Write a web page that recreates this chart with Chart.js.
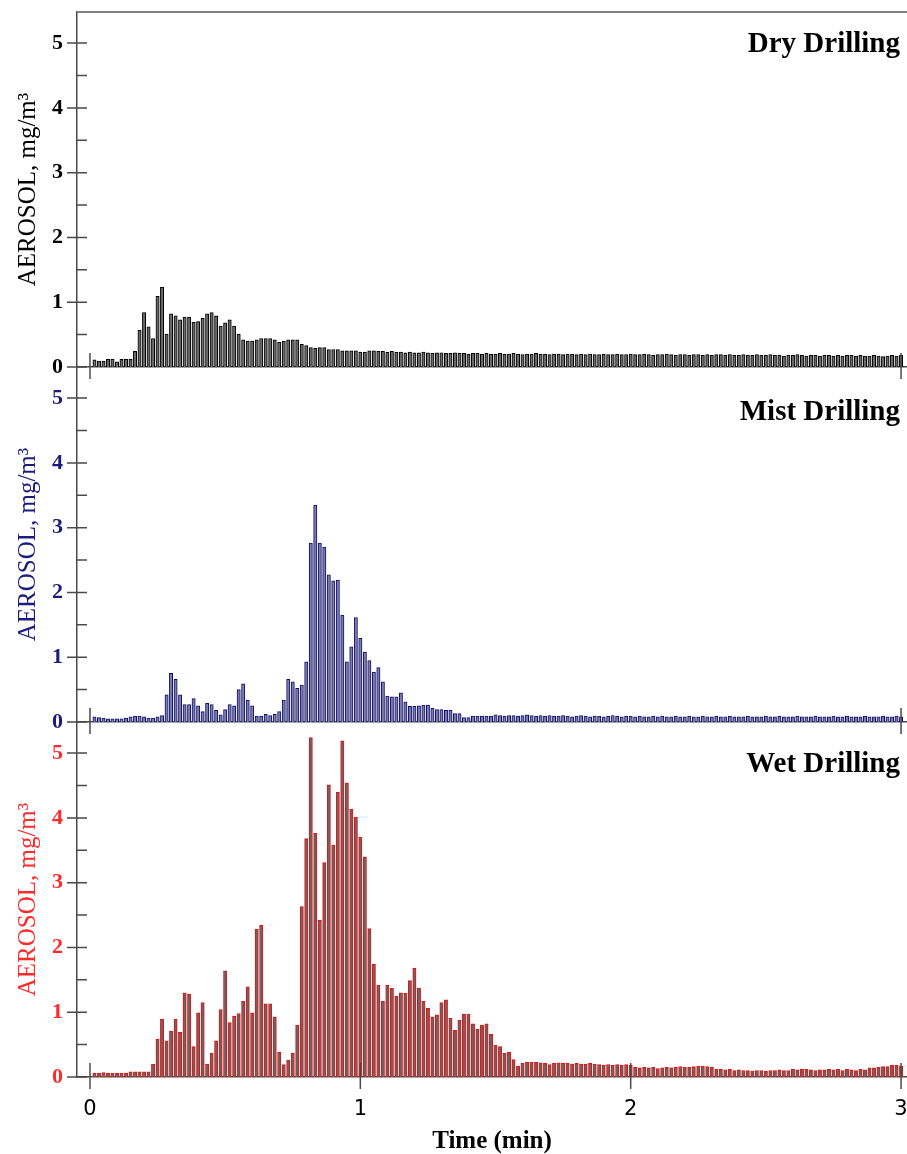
<!DOCTYPE html>
<html>
<head>
<meta charset="utf-8">
<title>Aerosol during drilling</title>
<script src="https://cdn.jsdelivr.net/npm/chart.js@4.4.1/dist/chart.umd.min.js"></script>
<style>
    body { margin: 0; background: #fff; }
    #wrap { position: relative; width: 907px; height: 1154px; overflow: hidden; }
    #wrap canvas { position: absolute; left: 0; }
</style>
</head>
<body>
<div id="wrap">
    <canvas id="dryChart" width="907" height="390" style="top:0px"></canvas>
    <canvas id="mistChart" width="907" height="390" style="top:355px"></canvas>
    <canvas id="wetChart" width="907" height="444" style="top:710px"></canvas>
</div>
<script>
// tick labels and panel names
const xTickLabels = [0, 1, 2, 3];
const yTickLabels = [0, 1, 2, 3, 4, 5];
const panelNames = ["Dry Drilling", "Mist Drilling", "Wet Drilling"];
const yAxisTitle = "AEROSOL, mg/m\u00B3";
const xAxisTitle = "Time (min)";

// one reading per second, mg/m3
const dryValues = [
    0.11, 0.09, 0.09, 0.12, 0.12, 0.08, 0.12, 0.12, 0.12, 0.24,
    0.57, 0.84, 0.62, 0.44, 1.09, 1.23, 0.51, 0.82, 0.79, 0.73,
    0.77, 0.77, 0.69, 0.70, 0.75, 0.82, 0.84, 0.79, 0.63, 0.68,
    0.73, 0.63, 0.51, 0.42, 0.40, 0.40, 0.42, 0.44, 0.44, 0.44,
    0.42, 0.38, 0.40, 0.42, 0.42, 0.42, 0.35, 0.33, 0.30, 0.29,
    0.30, 0.30, 0.27, 0.27, 0.27, 0.25, 0.25, 0.25, 0.25, 0.23,
    0.23, 0.25, 0.25, 0.24, 0.24, 0.23, 0.24, 0.23, 0.23, 0.22,
    0.23, 0.22, 0.22, 0.23, 0.22, 0.21, 0.22, 0.22, 0.21, 0.21,
    0.22, 0.21, 0.21, 0.20, 0.21, 0.21, 0.20, 0.21, 0.20, 0.20,
    0.21, 0.20, 0.20, 0.21, 0.20, 0.19, 0.20, 0.20, 0.21, 0.20,
    0.20, 0.19, 0.20, 0.20, 0.19, 0.20, 0.20, 0.19, 0.20, 0.19,
    0.20, 0.19, 0.19, 0.20, 0.19, 0.19, 0.20, 0.19, 0.19, 0.20,
    0.19, 0.19, 0.20, 0.19, 0.18, 0.19, 0.19, 0.20, 0.19, 0.18,
    0.19, 0.19, 0.18, 0.19, 0.19, 0.18, 0.19, 0.18, 0.19, 0.19,
    0.18, 0.19, 0.18, 0.18, 0.19, 0.18, 0.18, 0.19, 0.18, 0.18,
    0.19, 0.18, 0.18, 0.17, 0.18, 0.18, 0.19, 0.18, 0.17, 0.18,
    0.18, 0.17, 0.18, 0.18, 0.17, 0.18, 0.17, 0.18, 0.18, 0.17,
    0.18, 0.17, 0.17, 0.18, 0.17, 0.16, 0.17, 0.18, 0.17, 0.18
];
const mistValues = [
    0.08, 0.07, 0.06, 0.05, 0.05, 0.05, 0.05, 0.06, 0.08, 0.09,
    0.09, 0.08, 0.06, 0.06, 0.08, 0.10, 0.42, 0.75, 0.66, 0.42,
    0.27, 0.27, 0.36, 0.25, 0.16, 0.29, 0.27, 0.18, 0.11, 0.19,
    0.27, 0.25, 0.50, 0.59, 0.34, 0.25, 0.09, 0.09, 0.12, 0.10,
    0.12, 0.16, 0.34, 0.66, 0.62, 0.52, 0.57, 0.93, 2.76, 3.35,
    2.76, 2.70, 2.27, 2.18, 2.19, 1.65, 0.93, 1.16, 1.61, 1.29,
    1.08, 0.95, 0.77, 0.84, 0.62, 0.40, 0.39, 0.39, 0.45, 0.31,
    0.24, 0.24, 0.25, 0.26, 0.26, 0.21, 0.19, 0.19, 0.18, 0.18,
    0.13, 0.13, 0.07, 0.07, 0.09, 0.09, 0.09, 0.09, 0.09, 0.11,
    0.10, 0.09, 0.10, 0.10, 0.09, 0.10, 0.11, 0.10, 0.09, 0.10,
    0.09, 0.10, 0.09, 0.09, 0.10, 0.09, 0.08, 0.09, 0.10, 0.09,
    0.08, 0.09, 0.09, 0.08, 0.09, 0.10, 0.09, 0.08, 0.09, 0.09,
    0.08, 0.09, 0.08, 0.08, 0.09, 0.08, 0.09, 0.08, 0.08, 0.09,
    0.08, 0.08, 0.09, 0.08, 0.08, 0.09, 0.08, 0.08, 0.09, 0.08,
    0.08, 0.09, 0.08, 0.08, 0.08, 0.09, 0.08, 0.08, 0.08, 0.09,
    0.08, 0.08, 0.09, 0.08, 0.08, 0.08, 0.09, 0.08, 0.08, 0.08,
    0.09, 0.08, 0.08, 0.08, 0.09, 0.08, 0.08, 0.09, 0.08, 0.08,
    0.08, 0.09, 0.08, 0.08, 0.08, 0.09, 0.08, 0.08, 0.09, 0.08
];
const wetValues = [
    0.06, 0.06, 0.07, 0.06, 0.06, 0.06, 0.06, 0.06, 0.08, 0.08,
    0.08, 0.08, 0.08, 0.20, 0.58, 0.89, 0.56, 0.71, 0.89, 0.69,
    1.30, 1.28, 0.47, 0.99, 1.15, 0.20, 0.37, 0.56, 1.04, 1.64,
    0.84, 0.94, 0.98, 1.17, 1.39, 0.99, 2.28, 2.34, 1.13, 1.13,
    0.93, 0.38, 0.19, 0.26, 0.37, 0.80, 2.63, 3.68, 5.24, 3.76,
    2.42, 3.31, 4.51, 3.58, 4.40, 5.19, 4.54, 4.13, 4.01, 3.70,
    3.40, 2.29, 1.74, 1.42, 1.17, 1.42, 1.37, 1.25, 1.30, 1.29,
    1.49, 1.68, 1.37, 1.17, 1.06, 0.93, 0.96, 1.15, 1.19, 0.91,
    0.72, 0.88, 0.97, 0.97, 0.82, 0.74, 0.80, 0.82, 0.66, 0.49,
    0.47, 0.37, 0.38, 0.27, 0.17, 0.21, 0.23, 0.23, 0.23, 0.22,
    0.21, 0.19, 0.21, 0.22, 0.21, 0.21, 0.20, 0.21, 0.20, 0.20,
    0.21, 0.20, 0.19, 0.18, 0.19, 0.18, 0.19, 0.18, 0.19, 0.18,
    0.15, 0.14, 0.15, 0.14, 0.15, 0.13, 0.14, 0.15, 0.14, 0.15,
    0.16, 0.15, 0.15, 0.16, 0.17, 0.17, 0.16, 0.15, 0.12, 0.12,
    0.11, 0.12, 0.10, 0.11, 0.10, 0.10, 0.09, 0.10, 0.10, 0.09,
    0.10, 0.10, 0.11, 0.10, 0.10, 0.12, 0.11, 0.12, 0.12, 0.11,
    0.10, 0.11, 0.11, 0.12, 0.11, 0.12, 0.10, 0.12, 0.11, 0.10,
    0.12, 0.11, 0.14, 0.14, 0.15, 0.16, 0.16, 0.18, 0.18, 0.17
];

// sample times in minutes (1 s steps)
const sampleTimes = dryValues.map((v, i) => (i + 1) / 60);

const X_MIN = -0.048;
const X_MAX = 3.022;
const Y_MAX = 5.48;
const serif = "'Liberation Serif', 'Times New Roman', serif";

// draws ticks crossing the axes, the top frame line and the panel name
function panelDecor(opt) {
    return {
        id: "panelDecor",
        afterDraw(chart) {
            let ctx = chart.ctx;
            let area = chart.chartArea;
            let xs = chart.scales.x;
            let ys = chart.scales.y;
            let y0 = ys.getPixelForValue(0);

            ctx.save();
            ctx.strokeStyle = "#4a4a4a";
            ctx.lineWidth = 1.5;
            ctx.beginPath();
            for (let v = 0; v <= 5; v += 0.5) {
                let py = ys.getPixelForValue(v);
                let major = yTickLabels.includes(v);
                ctx.moveTo(major ? area.left - 10 : area.left, py);
                ctx.lineTo(area.left + 10, py);
            }
            opt.xMarks.forEach(function (t) {
                let px = xs.getPixelForValue(t);
                ctx.moveTo(px, y0 - 14);
                ctx.lineTo(px, y0 + 12);
            });
            ctx.stroke();

            if (opt.topLine) {
                ctx.strokeStyle = "#808080";
                ctx.lineWidth = 2;
                ctx.beginPath();
                ctx.moveTo(area.left, area.top);
                ctx.lineTo(area.right, area.top);
                ctx.stroke();
            }

            ctx.font = "bold 29px " + serif;
            ctx.fillStyle = "#000";
            ctx.textAlign = "right";
            ctx.textBaseline = "alphabetic";
            ctx.fillText(opt.name, area.right - 7, area.top + opt.nameOffset);
            ctx.restore();
        }
    };
}

function createPanel(id, values, opt) {
    let canvas = document.getElementById(id);
    let ctx = canvas.getContext("2d");

    let xAxis = {
        type: "linear",
        min: X_MIN,
        max: X_MAX,
        offset: false,
        grid: { display: false, drawTicks: true, tickLength: 24 },
        border: { display: true, color: "#4a4a4a", width: 1.5 },
        ticks: {
            display: opt.bottom,
            stepSize: 1,
            includeBounds: false,
            autoSkip: false,
            maxRotation: 0,
            padding: -2,
            color: "#000",
            font: { family: "'DejaVu Sans', sans-serif", size: 21, lineHeight: 1 },
            callback: function (v) { return xTickLabels.includes(v) ? String(v) : ""; }
        },
        title: {
            display: opt.bottom,
            text: xAxisTitle,
            color: "#000",
            padding: { top: 0, bottom: 0 },
            font: { family: serif, size: 25, weight: "bold", lineHeight: 1 }
        },
        afterFit: function (scale) { scale.height = opt.axisHeight; }
    };

    let yAxis = {
        min: 0,
        max: Y_MAX,
        grid: { display: false, drawTicks: true, tickLength: 14 },
        border: { display: true, color: "#4a4a4a", width: 1.5 },
        ticks: {
            stepSize: 0.5,
            autoSkip: false,
            padding: 0,
            color: opt.color,
            font: { family: serif, size: 22, weight: "bold", lineHeight: 1 },
            callback: function (v) { return yTickLabels.includes(v) ? String(v) : ""; }
        },
        title: {
            display: true,
            text: yAxisTitle,
            color: opt.color,
            padding: { top: 13, bottom: 0 },
            font: { family: serif, size: 25, lineHeight: 1.2 }
        },
        afterFit: function (scale) { scale.width = 77; }
    };

    return new Chart(ctx, {
        type: "bar",
        data: {
            datasets: [{
                data: sampleTimes.map((t, i) => ({ x: t, y: values[i] })),
                backgroundColor: opt.fill,
                borderColor: opt.edge,
                borderWidth: 1,
                barThickness: 3.3
            }]
        },
        options: {
            responsive: false,
            animation: false,
            layout: { padding: { top: 12, left: 0, right: 0, bottom: 0 } },
            plugins: { legend: { display: false }, tooltip: { enabled: false } },
            scales: { x: xAxis, y: yAxis }
        },
        plugins: [panelDecor(opt)]
    });
}

document.addEventListener("DOMContentLoaded", function () {
    createPanel("dryChart", dryValues, {
        name: panelNames[0], color: "#000000", edge: "#000000", fill: "#6a6a6a",
        bottom: false, axisHeight: 23, xMarks: [0, 3], topLine: true, nameOffset: 40
    });
    createPanel("mistChart", mistValues, {
        name: panelNames[1], color: "#1c1c7c", edge: "#10106a", fill: "#7c7cac",
        bottom: false, axisHeight: 23, xMarks: [0, 3], topLine: false, nameOffset: 53
    });
    createPanel("wetChart", wetValues, {
        name: panelNames[2], color: "#ff2a2a", edge: "#e81010", fill: "#666666",
        bottom: true, axisHeight: 77, xMarks: xTickLabels, topLine: false, nameOffset: 50
    });
});
</script>
</body>
</html>
